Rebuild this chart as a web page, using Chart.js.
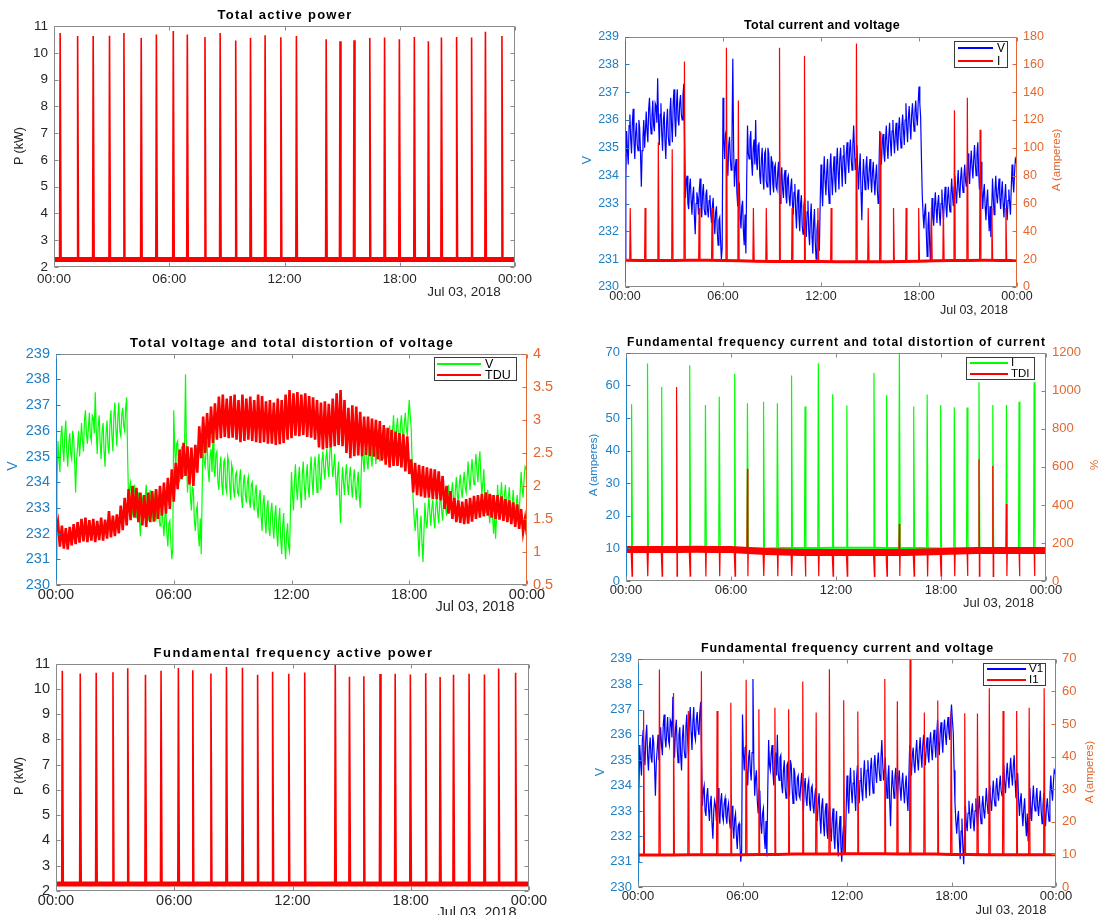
<!DOCTYPE html>
<html>
<head>
<meta charset="utf-8">
<script src="https://cdn.jsdelivr.net/npm/chart.js@4.4.1/dist/chart.umd.min.js"></script>
<style>
  body { margin: 0; width: 1107px; height: 915px; background: #fff; position: relative; overflow: hidden; }
  canvas { position: absolute; }
  .txt { position: absolute; white-space: nowrap; line-height: 1; z-index: 3; font-family: 'Liberation Sans', Arial, sans-serif; }
  .legbox { position: absolute; border: 1px solid #3a3a3a; background: #fff; box-sizing: border-box; z-index: 2; }
  .legline { position: absolute; height: 2px; z-index: 3; }
</style>
</head>
<body>
<script>
// ---- data ----
// x axis: hours of Jul 03, 2018
const hourTicks = ['00:00', '06:00', '12:00', '18:00', '00:00'];
const dateLabel = 'Jul 03, 2018';

// times of the switching events (hours), same in every panel
const spikeTimes = [0.32, 1.23, 2.04, 2.89, 3.64, 4.54, 5.33, 6.21, 6.94, 7.86, 8.65, 9.46, 10.23, 10.99, 11.81,
  12.62, 14.17, 14.89, 15.62, 16.44, 17.21, 17.98, 18.76, 19.49, 20.17, 20.96, 21.74, 22.46, 23.32];

// power (kW)
const totalPowerBase = 2.28;
const totalPowerPeak = [10.74, 10.63, 10.63, 10.64, 10.74, 10.56, 10.69, 10.82, 10.69, 10.59, 10.74, 10.46, 10.56, 10.66, 10.58,
  10.63, 10.51, 10.43, 10.47, 10.56, 10.57, 10.51, 10.59, 10.43, 10.57, 10.59, 10.57, 10.79, 10.63];
const fundPowerBase = 2.28;
const fundPowerPeak = [10.72, 10.61, 10.64, 10.66, 10.82, 10.56, 10.72, 10.83, 10.74, 10.61, 10.87, 10.84, 10.56, 10.68, 10.60,
  10.65, 11.0, 10.48, 10.50, 10.59, 10.60, 10.57, 10.62, 10.47, 10.56, 10.60, 10.57, 10.81, 10.64];

// current (A), hourly base levels
const totalCurrentBase = [19.2, 19.1, 19.0, 19.1, 19.3, 19.3, 19.1, 18.8, 18.5, 18.4, 18.4, 18.3, 18.3, 18.2, 18.2,
  18.2, 18.2, 18.3, 18.5, 18.8, 19.0, 19.1, 19.2, 19.1, 19.0];
const totalCurrentPeak = [56.7, 56.7, 104, 99, 162, 56.7, 56.7, 172, 134, 56.7, 56.7, 172, 56.7, 166, 56.7,
  56.7, 175, 56.7, 111, 56.7, 56.7, 56.7, 56.7, 56.7, 127, 136, 113, 56.7, 56.7];
const fundCurrentBase = [9.8, 9.8, 9.8, 9.9, 9.9, 9.9, 9.9, 10.0, 10.0, 10.1, 10.1, 10.1, 10.2, 10.2, 10.2,
  10.1, 10.1, 10.1, 10.0, 10.0, 9.9, 9.9, 9.9, 9.9, 9.9];
const fundCurrentPeak = [54.2, 66.7, 59.5, 54.0, 66.2, 54.0, 56.5, 63.6, 54.5, 55.0, 54.5, 63.0, 53.5, 66.8, 57.3,
  53.8, 63.8, 57.0, 70.0, 53.5, 57.2, 54.0, 53.3, 53.2, 61.0, 54.0, 54.0, 55.0, 61.0];

// total distortion of current (%)
const tdiBase = [165, 166, 165, 166, 167, 166, 165, 160, 155, 152, 150, 150, 150, 150, 150,
  150, 150, 152, 155, 158, 160, 161, 160, 160, 160];
const tdiRise = [null, null, null, 1020, null, null, null, null, 590, null, null, null, null, null, null,
  null, null, null, 300, null, null, null, null, null, 640, 605, 405, null, null];
const tdiDip = [26, 25, 26, 25, 26, 24, 25, 26, 25, 26, 25, 26, 24, 25, 26,
  25, 24, 25, 26, 25, 24, 26, 25, 26, 25, 24, 26, 25, 26];

// voltage (V): one value every 6 minutes (rows = hours) ...
const SAMPLE_STEP = 0.1;
const voltage = [
  231.0, 235.6, 234.4, 236.2, 234.8, 236.4, 234.6, 235.9, 234.9, 235.7,
  233.6, 235.4, 235.0, 236.3, 235.2, 236.8, 235.5, 236.7, 235.6, 236.5,
  237.5, 235.1, 236.6, 234.9, 236.3, 234.6, 236.4, 235.1, 236.8, 235.2,
  237.1, 235.4, 237.1, 235.8, 236.9, 236.0, 237.3, 233.2, 234.0, 232.8,
  233.9, 232.6, 233.6, 231.9, 233.4, 232.6, 233.9, 232.5, 233.7, 232.6,
  233.5, 232.5, 233.3, 232.3, 233.2, 231.9, 232.9, 231.5, 232.5, 231.0,
  236.8, 234.6, 235.6, 234.0, 235.4, 234.2, 238.2, 233.6, 234.6, 232.9,
  233.7, 232.1, 233.1, 231.5, 231.2, 235.8, 234.6, 235.6, 234.0, 235.3,
  236.0, 234.2, 235.2, 233.7, 235.0, 233.5, 234.9, 233.6, 234.8, 233.3,
  234.5, 233.4, 234.4, 233.5, 234.5, 233.0, 234.3, 233.2, 234.2, 233.0,
  234.0, 232.9, 233.9, 232.6, 233.7, 232.1, 233.5, 232.0, 233.3, 231.9,
  233.2, 231.8, 233.1, 231.5, 233.0, 231.2, 232.8, 231.0, 232.4, 231.3,
  234.4, 232.9, 234.7, 233.3, 234.6, 233.0, 234.8, 233.3, 234.7, 233.4,
  235.0, 233.5, 235.0, 233.6, 235.1, 233.7, 235.2, 234.1, 235.3, 234.2,
  235.8, 234.2, 235.1, 233.5, 234.8, 232.4, 234.6, 233.5, 234.7, 233.5,
  234.6, 233.4, 234.5, 233.3, 234.4, 233.0, 235.6, 234.4, 235.5, 234.5,
  235.8, 234.6, 235.9, 234.7, 236.0, 234.8, 235.9, 234.9, 236.1, 235.0,
  236.2, 235.1, 236.6, 235.2, 236.5, 235.3, 236.6, 235.6, 236.7, 235.8,
  237.2, 236.1, 233.3, 232.1, 233.0, 231.1, 232.7, 230.9, 233.2, 232.2,
  233.4, 232.3, 233.3, 232.2, 233.5, 232.4, 233.6, 232.5, 233.6, 232.7,
  233.9, 232.9, 234.0, 233.0, 234.2, 233.2, 234.3, 233.4, 234.4, 233.6,
  234.8, 233.7, 234.9, 233.9, 235.1, 234.0, 235.2, 233.5, 234.5, 232.8,
  233.7, 232.4, 233.5, 232.0, 231.8, 233.9, 232.6, 234.0, 233.0, 233.9,
  232.8, 233.8, 232.5, 233.7, 232.4, 233.5, 232.6, 234.4, 233.4, 234.6,
  234.8
];
// ... and the readings 3 minutes after each of those
const voltageMid = [
  233.8, 234.9, 235.8, 235.3, 235.9, 235.2, 235.5, 235.1, 236.0, 234.8,
  234.9, 236.0, 235.6, 235.6, 236.4, 235.9, 236.1, 235.8, 236.6, 235.9,
  236.0, 236.2, 235.5, 236.0, 235.2, 235.9, 235.4, 236.3, 235.8, 236.6,
  236.1, 236.5, 236.0, 236.6, 236.2, 236.9, 235.0, 233.8, 233.0, 233.6,
  233.1, 233.3, 232.5, 233.0, 233.2, 233.5, 232.9, 233.4, 232.8, 233.3,
  232.8, 233.1, 232.6, 232.9, 232.4, 232.7, 232.0, 232.4, 231.7, 231.4,
  235.3, 235.5, 234.5, 235.1, 234.6, 235.3, 235.0, 234.3, 233.4, 233.8,
  232.5, 232.9, 232.0, 232.6, 233.8, 234.8, 235.3, 234.5, 235.0, 234.4,
  234.5, 235.1, 234.0, 234.6, 233.9, 234.8, 233.8, 235.0, 233.9, 234.7,
  233.7, 234.3, 233.6, 234.1, 233.4, 234.0, 233.5, 234.0, 233.3, 233.9,
  233.2, 233.6, 233.0, 233.4, 232.7, 233.2, 232.5, 233.0, 232.2, 232.9,
  232.3, 232.7, 232.0, 232.5, 231.8, 232.3, 231.6, 232.0, 231.5, 233.0,
  233.5, 234.0, 233.8, 234.1, 233.6, 234.3, 233.9, 234.2, 233.8, 234.4,
  234.1, 234.6, 234.3, 234.7, 234.2, 234.8, 234.5, 234.9, 234.6, 235.1,
  234.9, 234.6, 234.2, 234.3, 233.4, 233.8, 234.0, 234.3, 233.9, 234.2,
  233.9, 234.1, 233.8, 234.0, 233.5, 234.3, 234.9, 235.2, 234.8, 235.3,
  235.0, 235.4, 235.2, 235.6, 235.3, 235.5, 235.2, 235.7, 235.4, 235.8,
  235.6, 236.0, 235.7, 236.1, 235.8, 236.2, 236.0, 236.3, 236.1, 236.6,
  236.6, 234.6, 232.6, 232.7, 231.9, 232.2, 231.6, 232.1, 232.5, 232.9,
  232.8, 233.0, 232.6, 233.0, 232.8, 233.1, 232.9, 233.2, 233.0, 233.3,
  233.3, 233.6, 233.4, 233.7, 233.5, 233.9, 233.7, 234.0, 233.8, 234.2,
  234.1, 234.4, 234.3, 234.6, 234.4, 234.8, 234.2, 234.0, 233.5, 233.4,
  232.9, 233.1, 232.6, 232.9, 232.7, 233.2, 233.4, 233.3, 233.5, 233.2,
  233.4, 233.0, 233.2, 232.9, 233.1, 233.0, 233.6, 233.8, 234.1, 234.5
];
// total distortion of voltage (%), every 6 minutes
const tdu = [
  1.30, 1.45, 1.08, 1.40, 1.05, 1.36, 1.04, 1.38, 1.10, 1.42,
  1.12, 1.45, 1.14, 1.50, 1.16, 1.52, 1.15, 1.48, 1.17, 1.50,
  1.15, 1.47, 1.18, 1.52, 1.17, 1.49, 1.20, 1.62, 1.22, 1.55,
  1.24, 1.57, 1.28, 1.70, 1.33, 1.82, 1.40, 1.95, 1.48, 2.00,
  1.52, 1.97, 1.45, 1.90, 1.40, 1.86, 1.38, 1.90, 1.45, 1.92,
  1.46, 1.95, 1.50, 2.00, 1.55, 2.05, 1.58, 2.12, 1.65, 2.25,
  1.76, 2.35, 1.95, 2.55, 2.10, 2.65, 2.15, 2.60, 2.02, 2.58,
  2.00, 2.62, 2.20, 2.90, 2.42, 3.05, 2.50, 3.10, 2.58, 3.20,
  2.65, 3.25, 2.70, 3.35, 2.72, 3.38, 2.74, 3.32, 2.72, 3.36,
  2.73, 3.38, 2.70, 3.30, 2.66, 3.38, 2.68, 3.32, 2.70, 3.35,
  2.68, 3.30, 2.66, 3.38, 2.65, 3.36, 2.66, 3.28, 2.64, 3.30,
  2.64, 3.26, 2.62, 3.32, 2.63, 3.30, 2.65, 3.38, 2.70, 3.45,
  2.72, 3.40, 2.76, 3.42, 2.75, 3.38, 2.77, 3.40, 2.74, 3.36,
  2.73, 3.34, 2.70, 3.30, 2.58, 3.26, 2.55, 3.28, 2.57, 3.24,
  2.58, 3.32, 2.60, 3.40, 2.62, 3.45, 2.60, 3.30, 2.50, 3.18,
  2.42, 3.22, 2.45, 3.20, 2.46, 3.12, 2.45, 3.05, 2.47, 3.05,
  2.45, 3.02, 2.44, 3.00, 2.40, 2.98, 2.38, 2.92, 2.32, 2.88,
  2.28, 2.85, 2.30, 2.82, 2.30, 2.80, 2.28, 2.78, 2.22, 2.75,
  2.18, 2.40, 1.90, 2.35, 1.86, 2.32, 1.84, 2.30, 1.82, 2.28,
  1.82, 2.26, 1.80, 2.25, 1.80, 2.22, 1.78, 2.15, 1.65, 2.00,
  1.58, 1.92, 1.50, 1.82, 1.45, 1.78, 1.44, 1.76, 1.42, 1.80,
  1.43, 1.82, 1.46, 1.85, 1.50, 1.86, 1.52, 1.88, 1.54, 1.90,
  1.55, 1.88, 1.52, 1.86, 1.50, 1.86, 1.49, 1.84, 1.47, 1.80,
  1.45, 1.78, 1.42, 1.75, 1.38, 1.72, 1.35, 1.65, 1.30, 1.50,
  1.25
];

// ---- styling ----
const FONT = "'Liberation Sans', Arial, Helvetica, sans-serif";
const DARK = '#262626';
const AX_BLUE = '#1f80c6';
const AX_ORANGE = '#e3672f';
const FRAME = '#8a8a8a';
const RED = '#ff0000', BLUE = '#0000ff', GREEN = '#00ff00';
const PAD_T = 10, PAD_B = 24;

// ---- series builders ----
function baseAt(base, t) {
  return typeof base === 'number' ? base : base[Math.min(24, Math.round(t))];
}
function baseLine(base) {
  if (typeof base === 'number') return [{x: 0, y: base}, {x: 24, y: base}];
  return base.map((v, h) => ({x: h, y: v}));
}
function spikes(peaks, base, dips) {
  const pts = [];
  spikeTimes.forEach((t, i) => {
    const b = baseAt(base, t);
    pts.push({x: t - 0.03, y: b}, {x: t, y: peaks[i] == null ? b : peaks[i]});
    if (dips) pts.push({x: t + 0.025, y: dips[i]});
    pts.push({x: t + 0.05, y: b}, {x: t + 0.05, y: null});
  });
  return pts;
}
function sampled(arr, mids) {
  const pts = [];
  arr.forEach((v, i) => {
    pts.push({x: i * SAMPLE_STEP, y: v});
    if (mids && i < mids.length) pts.push({x: (i + 0.5) * SAMPLE_STEP, y: mids[i]});
  });
  return pts;
}
function ds(data, color, width, axis, order) {
  return {data, borderColor: color, borderWidth: width, yAxisID: axis, order, pointRadius: 0, fill: false, spanGaps: false};
}

// ---- frame with inward ticks (MATLAB look) ----
const framePlugin = {
  id: 'frame',
  afterDraw(chart, args, opts) {
    const {ctx, chartArea: a, scales} = chart;
    const L = Math.round(a.left) + 0.5, R = Math.round(a.right) - 0.5;
    const T = Math.round(a.top) + 0.5, B = Math.round(a.bottom) - 0.5;
    const TL = 4;
    const seg = (x1, y1, x2, y2, c) => {
      ctx.strokeStyle = c; ctx.beginPath(); ctx.moveTo(x1, y1); ctx.lineTo(x2, y2); ctx.stroke();
    };
    ctx.save();
    ctx.lineWidth = 1;
    seg(L, T, R, T, FRAME);
    seg(L, B, R, B, FRAME);
    seg(L, T, L, B, opts.left);
    seg(R, T, R, B, opts.right);
    scales.x.ticks.forEach(t => {
      const x = Math.round(scales.x.getPixelForValue(t.value)) + 0.5;
      seg(x, B, x, B - TL, FRAME);
      seg(x, T, x, T + TL, FRAME);
    });
    scales.y.ticks.forEach(t => {
      const y = Math.round(scales.y.getPixelForValue(t.value)) + 0.5;
      seg(L, y, L + TL, y, opts.left);
      if (!scales.y1) seg(R, y, R - TL, y, opts.right);
    });
    if (scales.y1) {
      scales.y1.ticks.forEach(t => {
        const y = Math.round(scales.y1.getPixelForValue(t.value)) + 0.5;
        seg(R, y, R - TL, y, opts.right);
      });
    }
    ctx.restore();
  }
};

// ---- html text ----
function addText(txt, x, y, o) {
  const el = document.createElement('div');
  el.className = 'txt';
  el.textContent = txt;
  el.style.left = x + 'px';
  el.style.top = y + 'px';
  el.style.fontSize = o.size + 'px';
  el.style.color = o.color || DARK;
  if (o.bold) el.style.fontWeight = 'bold';
  let tr = o.anchor === 'left' ? 'translate(0,-50%)' : 'translate(-50%,-50%)';
  if (o.rotate) tr += ' rotate(-90deg)';
  el.style.transform = tr;
  document.body.appendChild(el);
  if (o.width) {
    const w = el.getBoundingClientRect().width;
    el.style.letterSpacing = ((o.width - w) / txt.length) + 'px';
  }
  return el;
}

function addLegend(lg) {
  const box = document.createElement('div');
  box.className = 'legbox';
  box.style.left = lg.box[0] + 'px';
  box.style.top = lg.box[1] + 'px';
  box.style.width = (lg.box[2] - lg.box[0]) + 'px';
  box.style.height = (lg.box[3] - lg.box[1]) + 'px';
  document.body.appendChild(box);
  lg.items.forEach((it, k) => {
    const ln = document.createElement('div');
    ln.className = 'legline';
    ln.style.left = lg.line[0] + 'px';
    ln.style.top = (lg.rows[k] - 1) + 'px';
    ln.style.width = (lg.line[1] - lg.line[0]) + 'px';
    ln.style.background = it.color;
    document.body.appendChild(ln);
    addText(it.label, lg.textX, lg.rows[k], {size: lg.size, anchor: 'left', color: '#000'});
  });
}

// ---- one subplot ----
function panel(p) {
  const [l, t, r, b] = p.area;
  const left = l - p.padL, top = t - PAD_T;
  const w = r + p.padR - left, h = b + PAD_B - top;
  const c = document.createElement('canvas');
  c.width = w; c.height = h;
  c.style.left = left + 'px'; c.style.top = top + 'px';
  c.style.width = w + 'px'; c.style.height = h + 'px';
  document.body.appendChild(c);

  const tickFont = {family: FONT, size: p.fs};
  const yScale = (s, pos, width, color) => ({
    type: 'linear', position: pos, min: s.min, max: s.max,
    afterFit: sc => { sc.width = width; },
    grid: {display: false, drawTicks: false}, border: {display: false},
    ticks: {stepSize: s.step, autoSkip: false, padding: 6, color, font: tickFont, callback: v => String(v)}
  });
  const scales = {
    x: {
      type: 'linear', min: 0, max: 24,
      afterFit: sc => { sc.height = PAD_B; },
      grid: {display: false, drawTicks: false}, border: {display: false},
      ticks: {stepSize: 6, autoSkip: false, maxRotation: 0, padding: p.xPad, color: DARK, font: tickFont,
        callback: (v, i) => hourTicks[i]}
    },
    y: yScale(p.y, 'left', p.padL, p.y.color)
  };
  if (p.y1) scales.y1 = yScale(p.y1, 'right', p.padR, p.y1.color);

  new Chart(c, {
    type: 'line',
    data: {datasets: p.datasets},
    options: {
      responsive: false, animation: false, events: [],
      layout: {padding: {top: PAD_T, right: p.y1 ? 0 : p.padR, left: 0, bottom: 0}},
      plugins: {
        legend: {display: false}, tooltip: {enabled: false},
        frame: {left: p.y.color === DARK ? FRAME : p.y.color, right: p.y1 ? p.y1.color : FRAME}
      },
      elements: {line: {tension: 0, borderJoinStyle: 'miter'}},
      scales
    },
    plugins: [framePlugin]
  });

  addText(p.title.text, p.title.x, p.title.y, {size: p.title.size, bold: true, color: '#000', width: p.title.w});
  addText(dateLabel, p.date[0], p.date[1], {size: p.fs});
  p.axisTitles.forEach(a => addText(a.text, a.x, a.y, {size: a.size, color: a.color, rotate: true}));
  if (p.legend) addLegend(p.legend);
}

// ---- the six panels ----
panel({
  area: [54, 22, 515, 267], padL: 54, padR: 40, fs: 13.5, xPad: 4,
  y: {min: 2, max: 11, step: 1, color: DARK},
  datasets: [
    ds(spikes(totalPowerPeak, totalPowerBase), RED, 1.6, 'y', 0),
    ds(baseLine(totalPowerBase), RED, 5, 'y', 1)
  ],
  title: {text: 'Total active power', x: 285, y: 14, size: 13, w: 135},
  date: [464, 292],
  axisTitles: [{text: 'P (kW)', x: 19, y: 146, size: 12.5, color: DARK}]
});

panel({
  area: [625, 33, 1017, 287], padL: 60, padR: 50, fs: 12.5, xPad: 2,
  y: {min: 230, max: 239, step: 1, color: AX_BLUE},
  y1: {min: 0, max: 180, step: 20, color: AX_ORANGE},
  datasets: [
    ds(spikes(totalCurrentPeak, totalCurrentBase), RED, 1.2, 'y1', 0),
    ds(baseLine(totalCurrentBase), RED, 3, 'y1', 1),
    ds(sampled(voltage, voltageMid), BLUE, 1.2, 'y', 2)
  ],
  title: {text: 'Total current and voltage', x: 822, y: 24.5, size: 12.5, w: 156},
  date: [974, 310],
  axisTitles: [
    {text: 'V', x: 587, y: 160, size: 12.5, color: AX_BLUE},
    {text: 'A (amperes)', x: 1057, y: 160, size: 11.5, color: AX_ORANGE}
  ],
  legend: {box: [954, 41, 1008, 68], line: [958, 993], textX: 997, rows: [48, 61], size: 12,
    items: [{label: 'V', color: BLUE}, {label: 'I', color: RED}]}
});

panel({
  area: [56, 349, 527, 585], padL: 56, padR: 26, fs: 14.5, xPad: 1.5,
  y: {min: 230, max: 239, step: 1, color: AX_BLUE},
  y1: {min: 0.5, max: 4, step: 0.5, color: AX_ORANGE},
  datasets: [
    ds(sampled(tdu), RED, 2.6, 'y1', 0),
    ds(sampled(voltage, voltageMid), GREEN, 1.2, 'y', 1)
  ],
  title: {text: 'Total voltage and total distortion of voltage', x: 292, y: 342, size: 13, w: 324},
  date: [475, 606],
  axisTitles: [{text: 'V', x: 12, y: 466, size: 14, color: AX_BLUE}],
  legend: {box: [434, 357, 517, 381], line: [437, 481], textX: 485, rows: [363.5, 375], size: 12.5,
    items: [{label: 'V', color: GREEN}, {label: 'TDU', color: RED}]}
});

panel({
  area: [626, 349, 1046, 581], padL: 66, padR: 61, fs: 13, xPad: 1.5,
  y: {min: 0, max: 70, step: 10, color: AX_BLUE},
  y1: {min: 0, max: 1200, step: 200, color: AX_ORANGE},
  datasets: [
    ds(spikes(tdiRise, tdiBase, tdiDip), RED, 1.2, 'y1', 0),
    ds(baseLine(tdiBase), RED, 7, 'y1', 1),
    ds(spikes(fundCurrentPeak, fundCurrentBase), GREEN, 1.2, 'y', 2),
    ds(baseLine(fundCurrentBase), GREEN, 2, 'y', 3)
  ],
  title: {text: 'Fundamental frequency current and total distortion of current', x: 836.5, y: 342, size: 12, w: 419},
  date: [998.5, 602],
  axisTitles: [
    {text: 'A (amperes)', x: 594, y: 465, size: 11.5, color: AX_BLUE},
    {text: '%', x: 1095, y: 465, size: 11.5, color: AX_ORANGE}
  ],
  legend: {box: [966, 357, 1035, 380], line: [970, 1008], textX: 1011, rows: [362.7, 374], size: 11.5,
    items: [{label: 'I', color: GREEN}, {label: 'TDI', color: RED}]}
});

panel({
  area: [56, 659, 529, 891], padL: 56, padR: 40, fs: 14.5, xPad: 1.5,
  y: {min: 2, max: 11, step: 1, color: DARK},
  datasets: [
    ds(spikes(fundPowerPeak, fundPowerBase), RED, 1.6, 'y', 0),
    ds(baseLine(fundPowerBase), RED, 5, 'y', 1)
  ],
  title: {text: 'Fundamental frequency active power', x: 293.5, y: 652, size: 13, w: 280},
  date: [477, 912],
  axisTitles: [{text: 'P (kW)', x: 19, y: 776, size: 12.5, color: DARK}]
});

panel({
  area: [638, 655, 1056, 887], padL: 78, padR: 51, fs: 13, xPad: 2,
  y: {min: 230, max: 239, step: 1, color: AX_BLUE},
  y1: {min: 0, max: 70, step: 10, color: AX_ORANGE},
  datasets: [
    ds(spikes(fundCurrentPeak, fundCurrentBase), RED, 1.2, 'y1', 0),
    ds(baseLine(fundCurrentBase), RED, 3, 'y1', 1),
    ds(sampled(voltage, voltageMid), BLUE, 1.2, 'y', 2)
  ],
  title: {text: 'Fundamental frequency current and voltage', x: 847.5, y: 647.5, size: 12.5, w: 293},
  date: [1011, 909],
  axisTitles: [
    {text: 'V', x: 600, y: 772, size: 12.5, color: AX_BLUE},
    {text: 'A (amperes)', x: 1090, y: 772, size: 11.5, color: AX_ORANGE}
  ],
  legend: {box: [983, 663, 1046, 686], line: [987, 1026], textX: 1029, rows: [669.3, 680], size: 11.5,
    items: [{label: 'V1', color: BLUE}, {label: 'I1', color: RED}]}
});
</script>
</body>
</html>
